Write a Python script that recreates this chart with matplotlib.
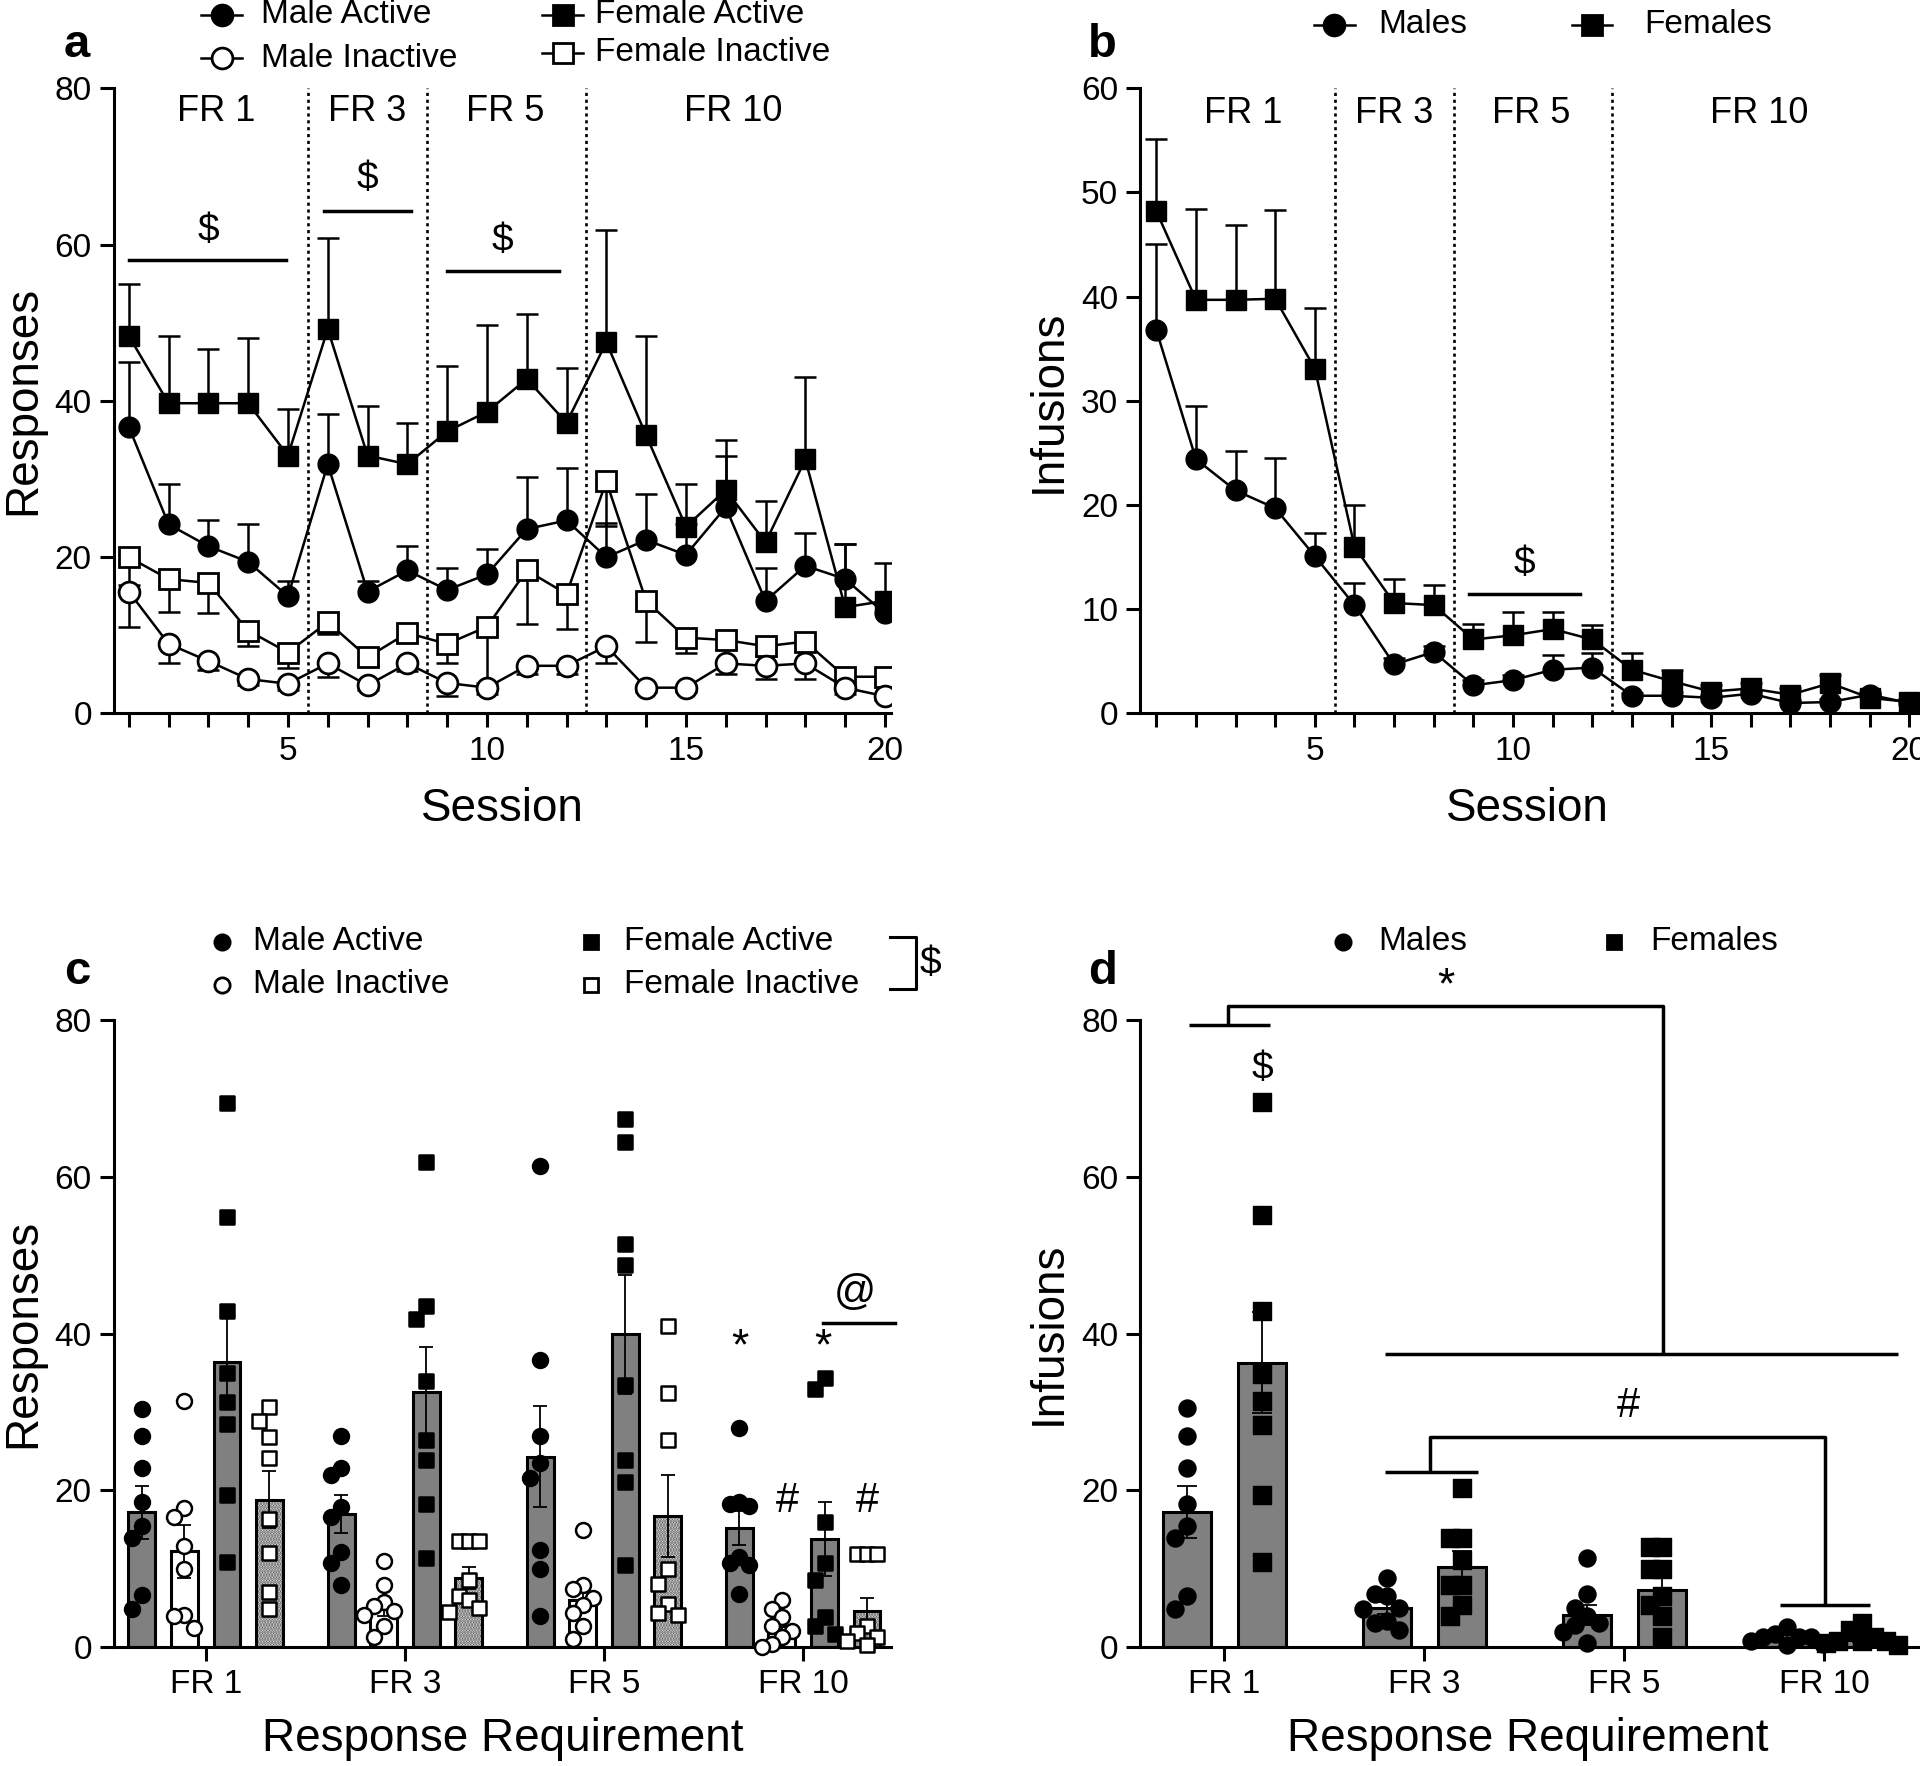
import numpy as np
import matplotlib
matplotlib.use("Agg")
import matplotlib.pyplot as plt
from matplotlib.lines import Line2D

plt.rcParams['font.family'] = ['Liberation Sans', 'DejaVu Sans']
plt.rcParams['hatch.linewidth'] = 1.6

# ---- panels a/b: per-session means and SEM ----
sessions = np.arange(1, 21)
male_active = [36.7, 24.2, 21.4, 19.4, 15.0, 31.9, 15.6, 18.3, 15.8, 17.8,
               23.6, 24.7, 20.0, 22.2, 20.3, 26.4, 14.4, 18.9, 17.2, 12.8]
male_active_sem = [8.3, 5.2, 3.3, 4.8, 1.9, 6.4, 1.3, 3.1, 2.8, 3.3,
                   6.7, 6.7, 4.4, 5.9, 4.0, 6.6, 4.2, 4.2, 4.5, 1.5]
female_active = [48.3, 39.7, 39.7, 39.7, 33.0, 49.2, 33.0, 31.9, 36.1, 38.6,
                 42.8, 37.2, 47.5, 35.6, 23.9, 28.6, 21.9, 32.5, 13.6, 14.4]
female_active_sem = [6.7, 8.6, 7.0, 8.3, 5.9, 11.6, 6.4, 5.3, 8.3, 11.1,
                     8.3, 7.0, 14.4, 12.7, 5.5, 6.4, 5.3, 10.6, 8.1, 4.8]
male_inactive = [15.6, 8.9, 6.7, 4.4, 3.8, 6.4, 3.6, 6.4, 3.9, 3.3,
                 6.1, 6.1, 8.6, 3.3, 3.3, 6.4, 6.1, 6.4, 3.3, 2.2]
male_inactive_sem = [4.5, 2.5, 1.2, 0.8, 0.8, 1.7, 0.6, 1.0, 1.7, 0.8,
                     1.0, 1.0, 2.2, 0.6, 0.6, 1.4, 1.7, 2.0, 0.8, 0.5]
female_inactive = [20.0, 17.2, 16.7, 10.6, 7.8, 11.7, 7.2, 10.3, 8.9, 11.1,
                   18.3, 15.3, 29.7, 14.4, 9.7, 9.4, 8.6, 9.2, 4.7, 4.7]
female_inactive_sem = [3.6, 4.2, 3.8, 2.0, 2.0, 1.5, 1.0, 1.2, 2.5, 7.2,
                       6.9, 4.5, 5.7, 5.2, 1.9, 1.2, 1.2, 1.2, 1.0, 0.8]

male_inf = [36.8, 24.4, 21.4, 19.7, 15.1, 10.4, 4.7, 5.9, 2.7, 3.2,
            4.2, 4.4, 1.7, 1.7, 1.5, 1.9, 1.0, 1.1, 1.8, 1.0]
male_inf_sem = [8.3, 5.1, 3.8, 4.8, 2.2, 2.1, 0.6, 0.6, 0.5, 0.5,
                1.4, 1.4, 0.3, 0.4, 0.3, 0.3, 0.3, 0.3, 0.3, 0.2]
female_inf = [48.2, 39.7, 39.7, 39.8, 33.1, 16.0, 10.6, 10.4, 7.1, 7.5,
              8.1, 7.1, 4.2, 3.1, 2.1, 2.4, 1.8, 2.9, 1.5, 1.1]
female_inf_sem = [6.9, 8.7, 7.2, 8.5, 5.8, 4.0, 2.3, 1.9, 1.5, 2.2,
                  1.6, 1.4, 1.6, 1.1, 0.6, 0.5, 0.6, 0.8, 0.4, 0.3]

phase_labels = ["FR 1", "FR 3", "FR 5", "FR 10"]
phase_label_x = [3.2, 7.0, 10.45, 16.2]
phase_bounds = [5.5, 8.5, 12.5]

# ---- panels c/d: per-requirement means, SEM and individual rats ----
requirements = ["FR 1", "FR 3", "FR 5", "FR 10"]
c_mean = {
    "MA": [17.2, 17.0, 24.3, 15.2],
    "MI": [12.2, 4.9, 6.0, 2.7],
    "FA": [36.4, 32.5, 39.9, 13.8],
    "FI": [18.8, 8.8, 16.7, 4.6],
}
c_sem = {
    "MA": [3.4, 2.4, 6.5, 2.2],
    "MI": [3.4, 1.0, 1.4, 0.8],
    "FA": [6.0, 5.8, 7.6, 4.7],
    "FI": [3.6, 1.4, 5.2, 1.7],
}
c_points = {
    "MA": [[30.4, 26.9, 22.8, 18.5, 15.4, 13.9, 6.6, 4.8],
           [26.9, 22.9, 21.9, 17.9, 16.6, 12.1, 10.7, 7.9],
           [61.4, 36.6, 26.9, 23.5, 21.6, 12.4, 9.9, 3.9],
           [27.9, 18.5, 18.2, 18.0, 11.5, 10.7, 10.4, 6.8]],
    "MI": [[31.4, 17.7, 16.6, 12.9, 9.9, 4.1, 3.9, 2.4],
           [11.0, 7.9, 5.7, 5.2, 4.6, 4.1, 2.7, 1.3],
           [14.9, 7.9, 7.4, 6.3, 5.4, 4.3, 2.7, 1.0],
           [6.0, 4.9, 3.8, 2.7, 2.1, 1.3, 0.4, 0.0]],
    "FA": [[69.4, 54.9, 42.9, 34.9, 31.3, 28.5, 19.4, 10.8],
           [61.9, 43.5, 41.9, 33.9, 26.4, 23.9, 18.3, 11.3],
           [67.4, 64.4, 51.4, 48.8, 33.4, 23.8, 21.0, 10.4],
           [34.3, 32.9, 16.0, 10.7, 8.5, 3.8, 2.7, 1.6]],
    "FI": [[30.6, 28.8, 26.8, 24.1, 16.3, 12.0, 7.0, 4.8],
           [13.5, 13.5, 13.5, 8.5, 6.5, 6.0, 5.0, 4.5],
           [41.0, 32.4, 26.4, 10.0, 8.0, 5.5, 4.3, 4.1],
           [11.8, 11.8, 11.8, 2.7, 1.8, 1.3, 0.7, 0.3]],
}

d_mean = {"M": [17.2, 5.0, 4.1, 0.9], "F": [36.3, 10.2, 7.3, 0.9]}
d_sem = {"M": [3.3, 0.8, 1.3, 0.3], "F": [6.5, 2.0, 1.6, 0.3]}
d_points = {
    "M": [[30.5, 26.9, 22.9, 18.3, 15.4, 13.9, 6.5, 4.9],
          [8.8, 6.8, 6.5, 5.0, 4.8, 3.3, 3.0, 2.2],
          [11.3, 6.8, 5.0, 3.9, 3.0, 2.8, 1.9, 0.5],
          [2.5, 1.6, 1.3, 1.3, 1.3, 0.7, 0.4, 0.2]],
    "F": [[69.5, 55.1, 42.9, 34.8, 31.4, 28.3, 19.4, 10.8],
          [20.3, 13.9, 13.9, 11.1, 7.9, 7.9, 5.3, 3.9],
          [12.8, 12.8, 9.9, 9.9, 6.5, 5.3, 3.9, 1.3],
          [3.0, 2.2, 1.3, 0.7, 0.7, 0.7, 0.5, 0.2]],
}

LW = 2.2
FS_TICK = 24
FS_LABEL = 33


def style(ax):
    for s in ['top', 'right']:
        ax.spines[s].set_visible(False)
    for s in ['left', 'bottom']:
        ax.spines[s].set_linewidth(LW)
    ax.tick_params(which='both', direction='out', length=10, width=LW,
                   labelsize=FS_TICK, pad=6)


def err_bars(ax, x, y, e, up=True, cap=16, z=2):
    x, y, e = np.asarray(x), np.asarray(y), np.asarray(e)
    end = y + e if up else y - e
    ax.vlines(x, y, end, color='k', lw=1.8, zorder=z)
    ax.plot(x, end, ls='none', marker='_', ms=cap, mew=1.8, color='k', zorder=z)


def swarm(vals, step, thr):
    vals = np.asarray(vals, float)
    offs = np.zeros(len(vals))
    placed = []
    for i in np.argsort(vals)[::-1]:
        v = vals[i]
        o = 0.0
        for k in [0, -1, 1, -2, 2, -3, 3]:
            o = k * step
            if all(abs(v - pv) >= thr or abs(o - po) >= step * 0.99 for pv, po in placed):
                break
        offs[i] = o
        placed.append((v, o))
    return offs


fig = plt.figure(figsize=(19.2, 17.66), dpi=100)
ax_a = fig.add_axes([0.0594, 0.596, 0.4046, 0.354])
ax_b = fig.add_axes([0.594, 0.596, 0.406, 0.354])
ax_c = fig.add_axes([0.0594, 0.0674, 0.4046, 0.355])
ax_d = fig.add_axes([0.594, 0.0674, 0.406, 0.355])

# ---------------- panel a ----------------
ax = ax_a
style(ax)
for xb in phase_bounds:
    ax.plot([xb, xb], [0, 80], ls=(0, (1.2, 1.4)), color='k', lw=1.9, zorder=1)
for lab, xl in zip(phase_labels, phase_label_x):
    ax.text(xl, 77, lab, ha='center', va='center', fontsize=26)

err_bars(ax, sessions, female_inactive, female_inactive_sem, up=False)
err_bars(ax, sessions, male_inactive, male_inactive_sem, up=False)
err_bars(ax, sessions, female_active, female_active_sem)
err_bars(ax, sessions, male_active, male_active_sem)
ax.plot(sessions, female_inactive, '-s', color='k', lw=1.8, ms=14, mfc='white', mew=2, zorder=3)
ax.plot(sessions, male_inactive, '-o', color='k', lw=1.8, ms=15, mfc='white', mew=2, zorder=3)
ax.plot(sessions, female_active, '-s', color='k', lw=1.8, ms=14, zorder=4)
ax.plot(sessions, male_active, '-o', color='k', lw=1.8, ms=15, zorder=5)

for (x0, x1, yl, xs, ys) in [(1.0, 4.95, 58.0, 3.0, 61.8),
                             (5.9, 8.1, 64.3, 7.0, 68.4),
                             (9.0, 11.8, 56.6, 10.4, 60.5)]:
    ax.plot([x0, x1], [yl, yl], color='k', lw=2.5)
    ax.text(xs, ys, "$", ha='center', va='center', fontsize=28)

ax.set_xlim(0.63, 20.15)
ax.set_ylim(0, 80)
ax.set_xticks([5, 10, 15, 20])
ax.set_xticks(sessions, minor=True)
ax.set_yticks(range(0, 81, 20))
ax.set_xlabel("Session", fontsize=FS_LABEL)
ax.set_ylabel("Responses", fontsize=FS_LABEL)
ax.xaxis.set_label_coords(0.5, -0.117)
ax.yaxis.set_label_coords(-0.088, 0.5)

# ---------------- panel b ----------------
ax = ax_b
style(ax)
for xb in phase_bounds:
    ax.plot([xb, xb], [0, 60], ls=(0, (1.2, 1.4)), color='k', lw=1.9, zorder=1)
for lab, xl in zip(phase_labels, phase_label_x):
    ax.text(xl, 57.6, lab, ha='center', va='center', fontsize=26)
err_bars(ax, sessions, male_inf, male_inf_sem)
err_bars(ax, sessions, female_inf, female_inf_sem)
ax.plot(sessions, male_inf, '-o', color='k', lw=1.8, ms=15, zorder=4)
ax.plot(sessions, female_inf, '-s', color='k', lw=1.8, ms=15, zorder=5)
ax.plot([8.9, 11.7], [11.5, 11.5], color='k', lw=2.5)
ax.text(10.3, 14.3, "$", ha='center', va='center', fontsize=28)
ax.set_xlim(0.6, 20.27)
ax.set_ylim(0, 60)
ax.set_xticks([5, 10, 15, 20])
ax.set_xticks(sessions, minor=True)
ax.set_yticks(range(0, 61, 10))
ax.set_xlabel("Session", fontsize=FS_LABEL)
ax.set_ylabel("Infusions", fontsize=FS_LABEL)
ax.xaxis.set_label_coords(0.497, -0.117)
ax.yaxis.set_label_coords(-0.09, 0.5)

# ---------------- panel c ----------------
ax = ax_c
style(ax)
xc = np.arange(len(requirements))
bw = 0.135
groups = [("MA", -0.32, 'o', 'k'), ("MI", -0.107, 'o', 'white'),
          ("FA", 0.107, 's', 'k'), ("FI", 0.32, 's', 'white')]
for key, off, mk, fc in groups:
    xs = xc + off
    if key in ("MA", "FA"):
        ax.bar(xs, c_mean[key], width=bw, color='#808080', edgecolor='k', lw=2.2, zorder=1)
    elif key == "MI":
        ax.bar(xs, c_mean[key], width=bw, color='white', edgecolor='k', lw=2.2, zorder=1)
    else:
        ax.bar(xs, c_mean[key], width=bw, color='white', edgecolor='#4a4a4a', lw=0,
               hatch='......', zorder=1)
        ax.bar(xs, c_mean[key], width=bw, color='none', edgecolor='k', lw=2.2, zorder=1.1)
    ax.errorbar(xs, c_mean[key], yerr=c_sem[key], fmt='none', ecolor='k',
                elinewidth=1.3, capsize=5, capthick=1.3, zorder=2)
    for i, pts in enumerate(c_points[key]):
        offs = swarm(pts, 0.05, 2.2)
        ax.scatter(xs[i] + offs, pts, s=115, marker=mk, facecolor=fc,
                   edgecolor='k', linewidths=1.8, zorder=3, clip_on=False)

ax.text(2.68, 38.2, "*", ha='center', va='center', fontsize=32)
ax.text(3.10, 38.2, "*", ha='center', va='center', fontsize=32)
ax.text(2.92, 18.6, "#", ha='center', va='center', fontsize=30)
ax.text(3.32, 18.6, "#", ha='center', va='center', fontsize=30)
ax.text(3.26, 45.2, "@", ha='center', va='center', fontsize=30)
ax.plot([3.10, 3.46], [41.3, 41.3], color='k', lw=2.5, clip_on=False)

ax.set_xlim(-0.46, 3.44)
ax.set_ylim(0, 80)
ax.set_xticks(xc)
ax.set_xticklabels(requirements)
ax.set_yticks(range(0, 81, 20))
ax.set_xlabel("Response Requirement", fontsize=FS_LABEL)
ax.set_ylabel("Responses", fontsize=FS_LABEL)
ax.xaxis.set_label_coords(0.5, -0.112)
ax.yaxis.set_label_coords(-0.088, 0.5)

# ---------------- panel d ----------------
ax = ax_d
style(ax)
bw_d = 0.24
for key, off, mk in [("M", -0.187, 'o'), ("F", 0.19, 's')]:
    xs = xc + off
    ax.bar(xs, d_mean[key], width=bw_d, color='#808080', edgecolor='k', lw=2.2, zorder=1)
    ax.errorbar(xs, d_mean[key], yerr=d_sem[key], fmt='none', ecolor='k',
                elinewidth=1.3, capsize=7, capthick=1.3, zorder=2)
    for i, pts in enumerate(d_points[key]):
        offs = swarm(pts, 0.06, 2.2)
        ax.scatter(xs[i] + offs, pts, s=150, marker=mk, facecolor='k',
                   edgecolor='k', linewidths=1, zorder=3, clip_on=False)

bk = dict(color='k', lw=2.5, clip_on=False, solid_capstyle='butt')
ax.plot([-0.177, 0.229], [79.4, 79.4], **bk)
ax.plot([0.02, 0.02, 2.195, 2.195], [79.4, 81.8, 81.8, 37.4], **bk)
ax.plot([0.805, 3.37], [37.4, 37.4], **bk)
ax.text(1.11, 84.2, "*", ha='center', va='center', fontsize=32)
ax.text(0.19, 73.8, "$", ha='center', va='center', fontsize=28)
ax.plot([0.805, 1.268], [22.3, 22.3], **bk)
ax.plot([1.03, 1.03, 3.005, 3.005], [22.3, 26.8, 26.8, 5.3], **bk)
ax.plot([2.78, 3.23], [5.3, 5.3], **bk)
ax.text(2.02, 30.8, "#", ha='center', va='center', fontsize=30)

ax.set_xlim(-0.42, 3.48)
ax.set_ylim(0, 80)
ax.set_xticks(xc)
ax.set_xticklabels(requirements)
ax.set_yticks(range(0, 81, 20))
ax.set_xlabel("Response Requirement", fontsize=FS_LABEL)
ax.set_ylabel("Infusions", fontsize=FS_LABEL)
ax.xaxis.set_label_coords(0.497, -0.112)
ax.yaxis.set_label_coords(-0.09, 0.5)

# ---------------- legends (figure coords) ----------------
def leg_entry(xm, y, xt, label, marker, fc, ms, line=True):
    if line:
        fig.add_artist(Line2D([xm - 0.0105, xm + 0.0105], [y, y], color='k', lw=1.8,
                              transform=fig.transFigure))
    fig.add_artist(Line2D([xm], [y], marker=marker, ms=ms, mfc=fc, mec='k', mew=2,
                          ls='none', transform=fig.transFigure))
    fig.text(xt, y, label, ha='left', va='center', fontsize=24)

leg_entry(0.1154, 0.9917, 0.1358, "Male Active", 'o', 'k', 15)
leg_entry(0.1154, 0.967, 0.1358, "Male Inactive", 'o', 'white', 15)
leg_entry(0.293, 0.9917, 0.31, "Female Active", 's', 'k', 14)
leg_entry(0.293, 0.970, 0.31, "Female Inactive", 's', 'white', 14)

leg_entry(0.695, 0.986, 0.7176, "Males", 'o', 'k', 15)
leg_entry(0.829, 0.986, 0.8565, "Females", 's', 'k', 15)

leg_entry(0.1154, 0.4668, 0.132, "Male Active", 'o', 'k', 11, line=False)
leg_entry(0.1154, 0.4425, 0.132, "Male Inactive", 'o', 'white', 11, line=False)
leg_entry(0.308, 0.4668, 0.325, "Female Active", 's', 'k', 10, line=False)
leg_entry(0.308, 0.4425, 0.325, "Female Inactive", 's', 'white', 10, line=False)
fig.add_artist(Line2D([0.4637, 0.477, 0.477, 0.4637], [0.4696, 0.4696, 0.4398, 0.4398],
                      color='k', lw=2.2, transform=fig.transFigure))
fig.text(0.4847, 0.4543, "$", ha='center', va='center', fontsize=28)

leg_entry(0.6996, 0.4668, 0.718, "Males", 'o', 'k', 11, line=False)
leg_entry(0.8406, 0.4668, 0.8597, "Females", 's', 'k', 10, line=False)

# panel letters
for lab, x, y in [("a", 0.040, 0.9745), ("b", 0.574, 0.9745),
                  ("c", 0.040, 0.4495), ("d", 0.574, 0.4495)]:
    fig.text(x, y, lab, ha='center', va='center', fontsize=34, fontweight='bold')

fig.savefig("out.png", dpi=100)
